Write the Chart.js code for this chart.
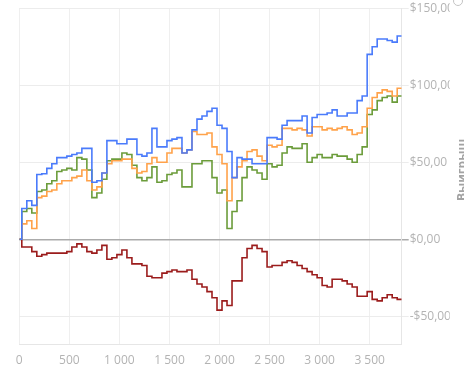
<!DOCTYPE html>
<html>
<head>
<meta charset="utf-8">
<script src="https://cdn.jsdelivr.net/npm/chart.js@4.4.1/dist/chart.umd.min.js"></script>
<style>
  html, body { margin: 0; padding: 0; background: #fff; overflow: hidden; }
  #wrap { position: relative; width: 464px; height: 378px; }
  #ytitle {
    position: absolute; left: 462px; top: 170px;
    transform: translate(-50%, -50%) rotate(-90deg);
    font: bold 12px 'Liberation Sans Narrow', 'Open Sans', sans-serif;
    line-height: 14px; color: #a3a3a3; white-space: nowrap;
  }
  #zoomIcon {
    position: absolute; left: 453px; top: -4px; width: 8px; height: 8px;
    border: 1.5px solid #c4c4c4; border-radius: 50%;
  }
</style>
</head>
<body>
<div id="wrap">
  <canvas id="chart" width="464" height="378"></canvas>
  <div id="ytitle">Выигрыш</div>
  <div id="zoomIcon"></div>
</div>
<script>
// x positions (trade number)
const xs = [0, 50, 100, 150, 200, 250, 300, 350, 400, 450,
  500, 550, 600, 650, 700, 750, 800, 850, 900, 950,
  1000, 1050, 1100, 1150, 1200, 1250, 1300, 1350, 1400, 1450,
  1500, 1550, 1600, 1650, 1700, 1750, 1800, 1850, 1900, 1950,
  2000, 2050, 2100, 2150, 2200, 2250, 2300, 2350, 2400, 2450,
  2500, 2550, 2600, 2650, 2700, 2750, 2800, 2850, 2900, 2950,
  3000, 3050, 3100, 3150, 3200, 3250, 3300, 3350, 3400, 3450,
  3500, 3550, 3600, 3650, 3700, 3750, 3800, 3820];

const blueValues = [0, 20, 25, 22, 42, 42.5, 46, 49, 53, 53,
  54, 55, 56, 59, 59, 37, 38, 43, 64, 64,
  62, 62, 65, 65, 55, 54, 56, 72, 60, 60,
  64, 65, 66, 56, 58, 71, 78, 80, 83, 85,
  74, 72, 57, 40, 53, 52, 52, 49, 49, 49,
  66, 66, 65, 74, 77, 77, 77, 80, 69, 79,
  81, 81, 82, 84, 80, 80, 82, 82, 90, 93,
  120, 125, 130, 130, 129, 128, 132, 132];

const orangeValues = [0, 10, 12, 7, 27, 28, 31, 32, 36, 38,
  38, 40, 41, 45, 38, 32, 34, 43, 49, 51,
  51, 52, 52, 46, 43, 44, 49, 53, 50, 50,
  56, 59, 59, 56, 58, 70, 68, 68, 69, 60,
  55, 49, 25, 40, 47, 51, 57, 58, 54, 51,
  61, 60, 61, 72, 72, 71, 72, 71, 67, 73,
  73, 71, 72, 71, 72, 73, 71, 68, 69, 73,
  85, 92, 95, 97, 96, 93, 98, 98];

const greenValues = [0, 18, 20, 17, 31, 32, 36, 38, 44, 45,
  46, 45, 53, 52, 45, 27, 30, 39, 51, 52,
  52, 56, 55, 48, 40, 38, 40, 47, 37, 38,
  42, 43, 45, 34, 34, 49, 49, 51, 51, 40,
  30, 32, 7, 18, 25, 40, 47, 45, 43, 39,
  49, 47, 48, 56, 60, 59, 59, 62, 50, 53,
  55, 53, 53, 55, 54, 54, 52, 50, 55, 60,
  81, 84, 90, 92, 93, 89, 93, 93];

const redValues = [0, -5, -5, -8, -11, -10, -9, -9, -9, -9,
  -8, -5, -3, -5, -8, -9, -7, -4, -13, -12,
  -10, -7, -12, -16, -16, -17, -24, -25, -25, -22,
  -21, -20, -21, -21, -20, -26, -29, -31, -34, -38,
  -46, -40, -43, -27, -27, -12, -6, -4, -6, -8,
  -18, -17, -17, -15, -14, -15, -17, -19, -21, -23,
  -25, -30, -31, -26, -26, -27, -29, -31, -37, -37,
  -34, -39, -40, -38, -36, -38, -39, -39];

const seriesColors = ['#4a7bfb', '#ffa24a', '#6b9c3a', '#9b1c1c'];
const yTicks = [-50, 0, 50, 100, 150];
const xTicks = [0, 500, 1000, 1500, 2000, 2500, 3000, 3500];

const tickFont = { family: "'Liberation Sans Narrow', 'Open Sans', sans-serif", size: 12 };

function toPoints(values) {
  return values.map((v, i) => ({ x: xs[i], y: v }));
}

function makeDataset(values, color) {
  return {
    data: toPoints(values),
    borderColor: color,
    borderWidth: 1.6,
    pointRadius: 0,
    stepped: 'middle',
    fill: false
  };
}

const ctx = document.getElementById('chart').getContext('2d');

new Chart(ctx, {
  type: 'line',
  data: {
    datasets: [
      makeDataset(blueValues, seriesColors[0]),
      makeDataset(orangeValues, seriesColors[1]),
      makeDataset(greenValues, seriesColors[2]),
      makeDataset(redValues, seriesColors[3])
    ]
  },
  options: {
    responsive: false,
    animation: false,
    layout: {
      padding: { top: 7.5, left: 19.3, right: 14.3, bottom: 10.6 }
    },
    plugins: {
      legend: { display: false },
      tooltip: { enabled: false }
    },
    scales: {
      x: {
        type: 'linear',
        min: 0,
        max: 3820,
        afterBuildTicks: function(scale) {
          scale.ticks = xTicks.map(v => ({ value: v }));
        },
        afterFit: function(scale) { scale.height = 23.4; },
        grid: { color: '#efefef', drawTicks: false },
        border: { color: '#e6e6e6' },
        ticks: {
          padding: 9,
          color: '#b3b3b3',
          font: tickFont,
          maxRotation: 0,
          callback: function(v) {
            if (v >= 1000) {
              return Math.floor(v / 1000) + ' ' + String(v % 1000).padStart(3, '0');
            }
            return String(v);
          }
        }
      },
      y: {
        position: 'right',
        min: -68,
        max: 150,
        afterBuildTicks: function(scale) {
          scale.ticks = yTicks.map(v => ({ value: v }));
        },
        afterFit: function(scale) { scale.width = 48; },
        grid: {
          color: c => (c.tick && c.tick.value === 0) ? '#ababab' : '#ececec',
          lineWidth: c => (c.tick && c.tick.value === 0) ? 1.5 : 1,
          tickLength: 7
        },
        border: { color: '#e6e6e6' },
        ticks: {
          padding: 1,
          color: '#b3b3b3',
          font: tickFont,
          callback: function(v) {
            return (v < 0 ? '-' : '') + '$' + Math.abs(v).toFixed(2).replace('.', ',');
          }
        }
      }
    }
  }
});
</script>
</body>
</html>
